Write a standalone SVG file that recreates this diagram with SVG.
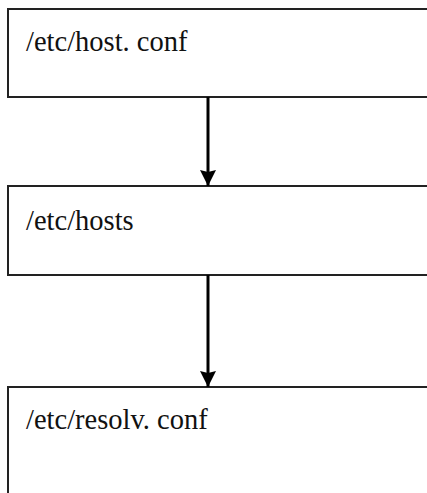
<svg xmlns="http://www.w3.org/2000/svg" width="427" height="493" viewBox="0 0 427 493">
  <style>
    .box { fill: #ffffff; stroke: #222222; stroke-width: 2; }
    .label { font-family: "Liberation Serif", "Times New Roman", serif; font-size: 28.5px; fill: #111111; }
    .conn { stroke: #000000; stroke-width: 3; fill: none; marker-end: url(#arrow); }
  </style>
  <defs>
    <marker id="arrow" viewBox="0 0 16 16" refX="16" refY="8" markerWidth="16" markerHeight="16" markerUnits="userSpaceOnUse" orient="auto">
      <path d="M0,0 L16,8 L0,16 L2,8 z" fill="#000000"/>
    </marker>
  </defs>
  <rect width="427" height="493" fill="#ffffff"/>
  <g id="node-host-conf">
    <rect class="box" x="8" y="9" width="430" height="88"/>
    <text class="label" x="26" y="51">/etc/host. conf</text>
  </g>
  <g id="node-hosts">
    <rect class="box" x="8" y="186" width="430" height="89"/>
    <text class="label" x="26" y="230">/etc/hosts</text>
  </g>
  <g id="node-resolv-conf">
    <rect class="box" x="8" y="387" width="430" height="120"/>
    <text class="label" x="26" y="429">/etc/resolv. conf</text>
  </g>
  <g id="connectors">
    <line class="conn" x1="208" y1="97" x2="208" y2="186"/>
    <line class="conn" x1="208" y1="275" x2="208" y2="387"/>
  </g>
</svg>
